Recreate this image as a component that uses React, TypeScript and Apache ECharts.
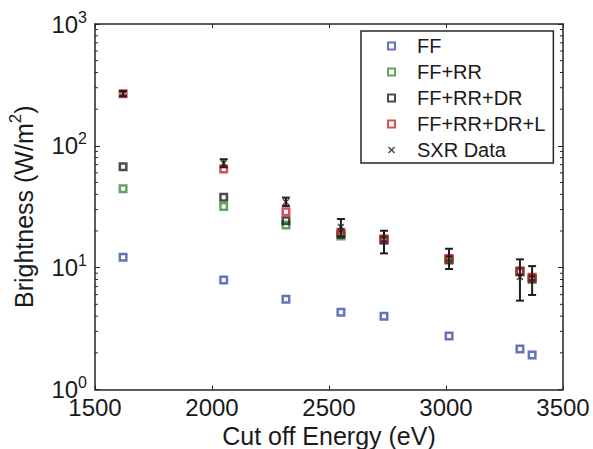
import React, { useEffect, useRef } from "react";
import * as echarts from "echarts";

const cutoffEnergy = [1620, 2050, 2316, 2551, 2735, 3013, 3316, 3368];
const ffValues = [12.2, 7.93, 5.5, 4.3, 4.0, 2.75, 2.15, 1.92];
const ffRrValues = [44.5, 31.7, 22.4, 18.2, 16.7, 11.5, 9.2, 8.0];
const ffRrDrValues = [67.5, 37.8, 24.3, 18.8, 17.0, 11.7, 9.3, 8.2];
const ffRrDrLValues = [268, 64.6, 28.8, 19.5, 17.3, 11.9, 9.45, 8.34];
const sxrValues = [268, 72, 34.6, 21.6, 17.1, 11.9, 8.4, 8.2];
const sxrLow = [255, 66.7, 32.1, 18.0, 13.1, 9.75, 5.36, 5.97];
const sxrHigh = [282, 77.6, 37.6, 25.1, 20.1, 14.3, 11.7, 10.3];
const minorTickValues = [2, 3, 4, 5, 6, 7, 8, 9, 20, 30, 40, 50, 60, 70, 80, 90, 200, 300, 400, 500, 600, 700, 800, 900];

const seriesNames = ["FF", "FF+RR", "FF+RR+DR", "FF+RR+DR+L", "SXR Data"];
const seriesColors = ["#3f51a8", "#3d8b3d", "#1e1e1e", "#d0262d"];

const FONT = "'Liberation Sans', Arial, Helvetica, sans-serif";
const TEXT = "#1a1a1a";
const AXIS = "#262626";
const CROSS = "path://M0,1.5L1.5,0L5,3.5L8.5,0L10,1.5L6.5,5L10,8.5L8.5,10L5,6.5L1.5,10L0,8.5L3.5,5Z";

export default function App() {
  const ref = useRef<HTMLDivElement>(null);

  useEffect(() => {
    if (!ref.current) return;
    const chart = echarts.init(ref.current, null, { renderer: "svg" });

    const modelSets = [ffValues, ffRrValues, ffRrDrValues, ffRrDrLValues];
    const modelSeries = modelSets.map((vals, i) => ({
      name: seriesNames[i],
      type: "scatter",
      xAxisIndex: 0,
      yAxisIndex: 0,
      symbol: "rect",
      symbolSize: 6.5,
      itemStyle: { color: "transparent", borderColor: seriesColors[i], borderWidth: 2.5 },
      data: cutoffEnergy.map((x, j) => [x, vals[j]]),
      z: 3 + i,
    }));

    const option: any = {
      animation: false,
      backgroundColor: "#ffffff",
      grid: { left: 95, top: 24, width: 468, height: 365.5, containLabel: false, outerBoundsMode: "none" },
      legend: {
        orient: "vertical",
        left: 361,
        top: 31,
        padding: [2, 8, 0, 26],
        itemGap: 0,
        itemWidth: 7,
        itemHeight: 7,
        backgroundColor: "#ffffff",
        borderColor: AXIS,
        borderWidth: 1.5,
        borderRadius: 0,
        selectedMode: false,
        textStyle: { fontFamily: FONT, fontSize: 20, color: TEXT, lineHeight: 26, padding: [0, 0, 0, 17] },
        data: [
          ...seriesColors.map((c, i) => ({
            name: seriesNames[i],
            icon: "rect",
            itemStyle: { color: "#ffffff", borderColor: c, borderWidth: 2 },
          })),
          { name: seriesNames[4], icon: CROSS, itemStyle: { color: "#1e1e1e", borderWidth: 0 } },
        ],
      },
      xAxis: [
        {
          type: "value",
          position: "bottom",
          min: 1500,
          max: 3500,
          interval: 500,
          name: "Cut off Energy (eV)",
          nameLocation: "middle",
          nameGap: 33,
          nameTextStyle: { fontFamily: FONT, fontSize: 25, color: TEXT },
          axisLine: { show: true, onZero: false, lineStyle: { color: AXIS, width: 1.5 } },
          axisTick: { show: true, inside: true, length: 4, lineStyle: { color: AXIS, width: 1 } },
          axisLabel: {
            fontFamily: FONT,
            fontSize: 24,
            lineHeight: 16,
            color: TEXT,
            margin: 9.5,
            formatter: (v: number) => String(v),
          },
          splitLine: { show: false },
        },
        {
          type: "value",
          position: "top",
          min: 1500,
          max: 3500,
          interval: 500,
          axisLine: { show: true, onZero: false, lineStyle: { color: AXIS, width: 1.5 } },
          axisTick: { show: true, inside: true, length: 4, lineStyle: { color: AXIS, width: 1 } },
          axisLabel: { show: false },
          splitLine: { show: false },
        },
      ],
      yAxis: [
        {
          type: "log",
          logBase: 10,
          position: "left",
          min: 1,
          max: 1000,
          name: "{a|Brightness (W/m}{s|2}{a|)}",
          nameLocation: "middle",
          nameGap: 55,
          nameRotate: 90,
          nameTextStyle: {
            rich: {
              a: { fontFamily: FONT, fontSize: 25, color: TEXT, lineHeight: 33 },
              s: { fontFamily: FONT, fontSize: 17, color: TEXT, lineHeight: 17, padding: [0, 0, 16, 0] },
            },
          },
          axisLine: { show: true, onZero: false, lineStyle: { color: AXIS, width: 1.5 } },
          axisTick: { show: true, inside: true, length: 5, lineStyle: { color: AXIS, width: 1 } },
          axisLabel: {
            margin: 8,
            formatter: (v: number) => `{b|10}{s|${Math.round(Math.log10(v))}}`,
            rich: {
              b: { fontFamily: FONT, fontSize: 24, color: TEXT, lineHeight: 18 },
              s: { fontFamily: FONT, fontSize: 16, color: TEXT, lineHeight: 4, padding: [0, 0, 14, 0] },
            },
          },
          splitLine: { show: false },
        },
        {
          type: "log",
          logBase: 10,
          position: "right",
          min: 1,
          max: 1000,
          axisLine: { show: true, onZero: false, lineStyle: { color: AXIS, width: 1.5 } },
          axisTick: { show: true, inside: true, length: 5, lineStyle: { color: AXIS, width: 1 } },
          axisLabel: { show: false },
          splitLine: { show: false },
        },
      ],
      series: [
        {
          name: "minorTicks",
          type: "custom",
          xAxisIndex: 0,
          yAxisIndex: 0,
          silent: true,
          z: 1,
          data: minorTickValues.map((v) => [1500, v]),
          encode: { x: 0, y: 1 },
          renderItem: (params: any, api: any) => {
            const y = api.coord([1500, api.value(1)])[1];
            const cs = params.coordSys;
            const style = { stroke: AXIS, lineWidth: 1 };
            return {
              type: "group",
              children: [
                { type: "line", shape: { x1: cs.x, y1: y, x2: cs.x + 3, y2: y }, style },
                { type: "line", shape: { x1: cs.x + cs.width - 3, y1: y, x2: cs.x + cs.width, y2: y }, style },
              ],
            };
          },
        },
        ...modelSeries,
        {
          name: "sxrErrors",
          type: "custom",
          xAxisIndex: 0,
          yAxisIndex: 0,
          z: 8,
          data: cutoffEnergy.map((x, j) => [x, sxrLow[j], sxrHigh[j]]),
          encode: { x: 0, y: [1, 2] },
          renderItem: (params: any, api: any) => {
            const x = api.value(0);
            const lo = api.coord([x, api.value(1)]);
            const hi = api.coord([x, api.value(2)]);
            const w = 4;
            const style = { stroke: "#1e1e1e", lineWidth: 2 };
            return {
              type: "group",
              children: [
                { type: "line", shape: { x1: lo[0], y1: lo[1], x2: hi[0], y2: hi[1] }, style },
                { type: "line", shape: { x1: lo[0] - w, y1: lo[1], x2: lo[0] + w, y2: lo[1] }, style },
                { type: "line", shape: { x1: hi[0] - w, y1: hi[1], x2: hi[0] + w, y2: hi[1] }, style },
              ],
            };
          },
        },
        {
          name: seriesNames[4],
          type: "scatter",
          xAxisIndex: 0,
          yAxisIndex: 0,
          symbol: CROSS,
          symbolSize: 7,
          itemStyle: { color: "#1e1e1e" },
          z: 9,
          data: cutoffEnergy.map((x, j) => [x, sxrValues[j]]),
        },
      ],
    };

    chart.setOption(option);
    return () => chart.dispose();
  }, []);

  return (
    <div
      ref={ref}
      style={{ position: "absolute", left: 0, top: 0, width: 593, height: 449, background: "#ffffff" }}
    />
  );
}
